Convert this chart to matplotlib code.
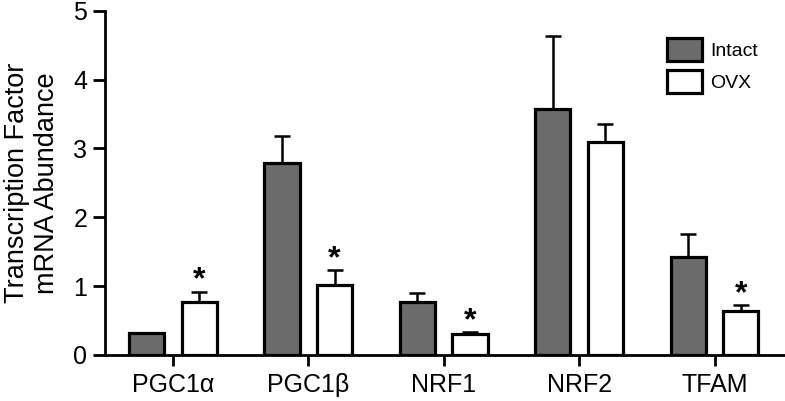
import matplotlib
matplotlib.use("Agg")
import matplotlib.pyplot as plt
import numpy as np

categories = ["PGC1α", "PGC1β", "NRF1", "NRF2", "TFAM"]
intact = [0.32, 2.79, 0.77, 3.58, 1.42]
intact_err = [0.0, 0.39, 0.13, 1.06, 0.34]
ovx = [0.77, 1.01, 0.31, 3.09, 0.64]
ovx_err = [0.15, 0.22, 0.02, 0.26, 0.08]
ovx_sig = [True, True, True, False, True]

plt.rcParams['font.family'] = ['Liberation Sans', 'DejaVu Sans']

fig = plt.figure(figsize=(7.85, 4.01), dpi=100)
ax = fig.add_axes([0.134, 0.115, 0.866, 0.858])

x = np.arange(len(categories))
w = 0.26
off = 0.194
lw = 2.3
ax.bar(x - off, intact, w, color='#6b6b6b', edgecolor='black', linewidth=lw, label='Intact', zorder=2)
ax.bar(x + off, ovx, w, color='white', edgecolor='black', linewidth=lw, label='OVX', zorder=2)

ax.errorbar(x - off, intact, yerr=[np.zeros(len(x)), intact_err], fmt='none', ecolor='black',
            elinewidth=1.8, capsize=5.5, capthick=1.8, zorder=1)
ax.errorbar(x + off, ovx, yerr=[np.zeros(len(x)), ovx_err], fmt='none', ecolor='black',
            elinewidth=1.8, capsize=5.5, capthick=1.8, zorder=1)

for xi, v, e, s in zip(x, ovx, ovx_err, ovx_sig):
    if s:
        ax.text(xi + off, v + e - 0.06, '*', ha='center', va='bottom', fontsize=23, fontweight='bold')

ax.set_xlim(-0.5, 4.52)
ax.set_ylim(0, 5)
ax.set_yticks([0, 1, 2, 3, 4, 5])
ax.set_xticks(x)
ax.set_xticklabels(categories, fontsize=18)
ax.tick_params(axis='y', labelsize=18, width=2, length=9, direction='out', pad=4)
ax.tick_params(axis='x', width=2, length=8, direction='out', pad=5)
for sp in ['top', 'right']:
    ax.spines[sp].set_visible(False)
for sp in ['left', 'bottom']:
    ax.spines[sp].set_linewidth(2)
ax.set_ylabel('Transcription Factor\nmRNA Abundance', fontsize=19.5, linespacing=1.2)
ax.yaxis.set_label_coords(-0.066, 0.5)

leg = ax.legend(loc='upper left', bbox_to_anchor=(0.828, 0.95), bbox_transform=fig.transFigure,
                frameon=False, fontsize=14, borderpad=0.4,
                handlelength=1.75, handleheight=1.45, handletextpad=0.45, labelspacing=0.5)

fig.savefig('out.png', dpi=100)
